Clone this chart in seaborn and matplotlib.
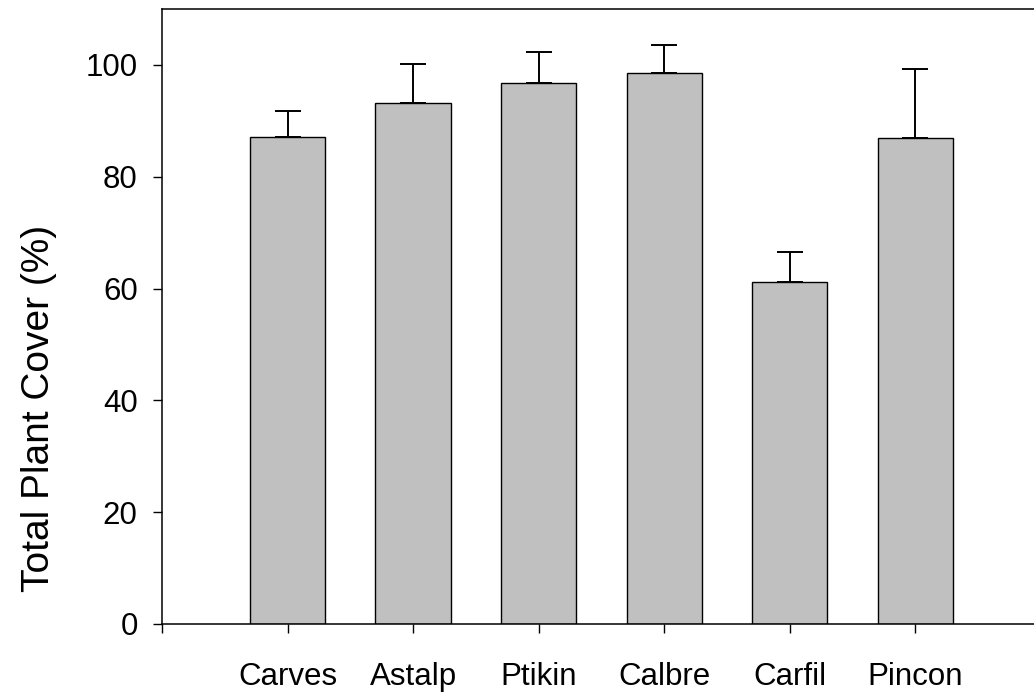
import numpy as np
import pandas as pd
import matplotlib
matplotlib.use("Agg")
import matplotlib.pyplot as plt
import seaborn as sns

# total plant cover per species plot (mean, upper error)
sites = ["Carves", "Astalp", "Ptikin", "Calbre", "Carfil", "Pincon"]
cover = [87.1, 93.2, 96.8, 98.6, 61.1, 86.9]
err_up = [4.6, 6.9, 5.5, 4.9, 5.5, 12.4]

df = pd.DataFrame({"site": sites, "cover": cover})

sns.set_style("ticks")
plt.rcParams["font.family"] = ["Liberation Sans", "DejaVu Sans"]
plt.rcParams["text.color"] = "black"
plt.rcParams["axes.labelcolor"] = "black"
plt.rcParams["xtick.color"] = "black"
plt.rcParams["ytick.color"] = "black"

fig = plt.figure(figsize=(10.34, 6.94), dpi=100)
ax = fig.add_axes([0.1567, 0.1009, 0.850, 0.886])

sns.barplot(data=df, x="site", y="cover", order=sites, errorbar=None,
            color="#c0c0c0", saturation=1, width=0.6,
            edgecolor="black", linewidth=1.0, ax=ax)

xpos = np.arange(len(sites))
ax.errorbar(xpos, cover, yerr=[np.zeros(len(sites)), err_up], fmt="none",
            ecolor="black", elinewidth=1.4, capsize=9.5, capthick=1.4, zorder=1)

ax.set_xlim(-1, 6)
ax.set_ylim(0, 110)
ax.set_yticks([0, 20, 40, 60, 80, 100])
ax.set_xticks([-1] + list(xpos))
ax.set_xticklabels([""] + sites)

ax.tick_params(axis="both", direction="out", length=6.5, width=1.0,
               labelsize=22.5, labelcolor="black", color="black")
ax.tick_params(axis="x", pad=21)
ax.tick_params(axis="y", pad=11)

ax.set_xlabel("")
ax.set_ylabel("Total Plant Cover (%)", fontsize=28, color="black")
ax.yaxis.set_label_coords(-0.12, 0.351)

for side in ["left", "bottom", "top"]:
    ax.spines[side].set_linewidth(1.1)
    ax.spines[side].set_color("black")
ax.spines["right"].set_visible(False)

fig.savefig("out.png", dpi=100)
